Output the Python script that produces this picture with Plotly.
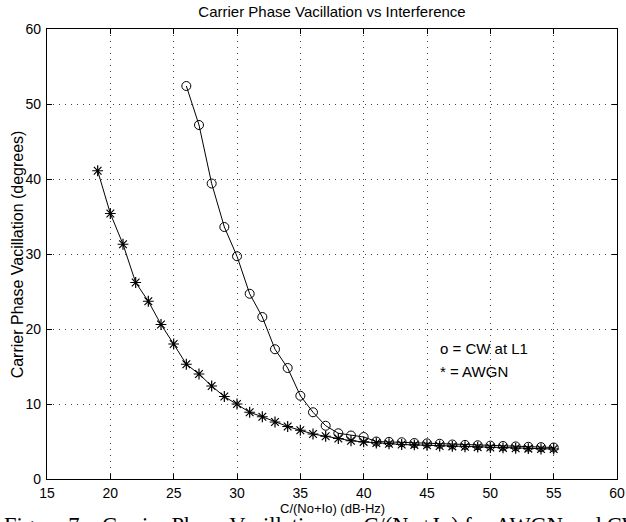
import plotly.graph_objects as go

cw_x = list(range(26, 56))
cw_y = [52.4, 47.2, 39.4, 33.6, 29.7, 24.7, 21.6, 17.3, 14.8, 11.1,
        8.9, 7.1, 6.1, 5.8, 5.6, 5.0, 4.95, 4.9, 4.8, 4.75,
        4.7, 4.6, 4.55, 4.5, 4.45, 4.4, 4.35, 4.3, 4.25, 4.2]

awgn_x = list(range(19, 56))
awgn_y = [41.1, 35.4, 31.3, 26.2, 23.7, 20.6, 18.0, 15.3, 14.0, 12.4,
          11.0, 10.0, 8.9, 8.3, 7.6, 7.0, 6.5, 6.0, 5.7, 5.4,
          5.1, 4.95, 4.8, 4.7, 4.6, 4.55, 4.5, 4.4, 4.35, 4.3,
          4.25, 4.2, 4.15, 4.1, 4.05, 4.0, 4.0]

x_ticks = [15, 20, 25, 30, 35, 40, 45, 50, 55, 60]
y_ticks = [0, 10, 20, 30, 40, 50, 60]

title = "Carrier Phase Vacillation vs Interference"
x_title = "C/(No+Io) (dB-Hz)"
y_title = "Carrier Phase Vacillation (degrees)"
legend_lines = ["o = CW at L1", "* = AWGN"]
caption = "Figure 7.   Carrier Phase Vacillation vs. C/(No+Io) for AWGN and CW"

font = "Liberation Sans, Arial, sans-serif"

fig = go.Figure()
fig.add_trace(go.Scatter(
    x=cw_x, y=cw_y, mode="lines+markers",
    line=dict(color="black", width=1),
    marker=dict(symbol="circle-open", size=9, color="black", line=dict(width=1)),
    showlegend=False, hoverinfo="skip"))
fig.add_trace(go.Scatter(
    x=awgn_x, y=awgn_y, mode="lines+markers",
    line=dict(color="black", width=1),
    marker=dict(symbol="asterisk-open", size=9, color="black", line=dict(width=1.2)),
    showlegend=False, hoverinfo="skip"))

axis_common = dict(
    showline=True, linecolor="black", linewidth=1.2, mirror="ticks",
    ticks="inside", ticklen=5, tickcolor="black",
    showgrid=True, gridcolor="#444", griddash="1px,5px", gridwidth=1,
    zeroline=False, tickfont=dict(family=font, size=14, color="black"),
    automargin=False,
)

fig.update_xaxes(range=[15, 60], tickvals=x_ticks, ticktext=[str(v) for v in x_ticks],
                 ticklabelstandoff=1, **axis_common)
fig.update_yaxes(range=[0, 60], tickvals=y_ticks, ticktext=[str(v) for v in y_ticks],
                 ticklabelstandoff=2, **axis_common)

# axis titles as annotations for precise placement
fig.add_annotation(x=0.5, y=-0.0656, xref="paper", yref="paper", text=x_title,
                   showarrow=False, xanchor="center", yanchor="middle",
                   font=dict(family=font, size=13, color="black"))
fig.add_annotation(x=-0.052, y=0.5, xref="paper", yref="paper", text=y_title,
                   showarrow=False, xanchor="center", yanchor="middle", textangle=-90,
                   font=dict(family=font, size=16, color="black"))

fig.add_annotation(x=45.9, y=17.4, xref="x", yref="y", text=legend_lines[0],
                   showarrow=False, xanchor="left", yanchor="middle",
                   font=dict(family=font, size=15, color="black"))
fig.add_annotation(x=45.9, y=14.3, xref="x", yref="y", text=legend_lines[1],
                   showarrow=False, xanchor="left", yanchor="middle",
                   font=dict(family=font, size=15, color="black"))
fig.add_annotation(x=-0.079, y=-0.071, xref="paper", yref="paper", text=caption,
                   showarrow=False, xanchor="left", yanchor="top",
                   font=dict(family="Liberation Serif, Times New Roman, serif", size=22.5, color="black"))

fig.update_layout(
    width=626, height=522,
    margin=dict(l=47, r=9, t=29, b=43),
    paper_bgcolor="white", plot_bgcolor="white",
    hovermode=False,
    title=dict(text=title, x=0.5, xref="paper", y=1 - 12 / 522, yanchor="middle",
               font=dict(family=font, size=15, color="black")),
)

fig.write_html("out.html", config={"displayModeBar": False},
               post_script="document.body.style.margin='0';document.body.style.overflow='hidden';")
